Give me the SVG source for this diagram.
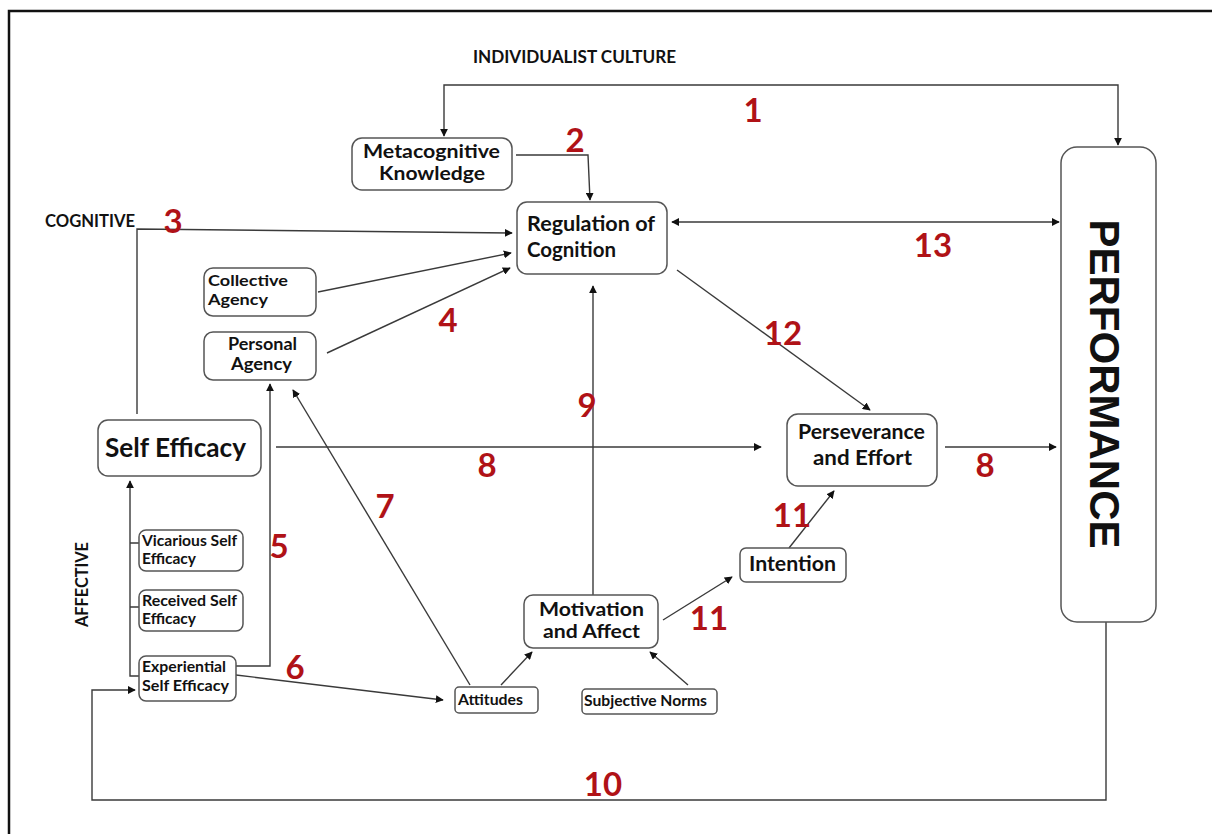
<svg xmlns="http://www.w3.org/2000/svg" width="1212" height="834" viewBox="0 0 1212 834">
<defs>
<marker id="ah" viewBox="0 0 10 10" refX="9" refY="5" markerWidth="8" markerHeight="8" markerUnits="userSpaceOnUse" orient="auto-start-reverse">
<path d="M0,0 L10,5 L0,10 z" fill="#111"/>
</marker>
<style>
.box{fill:#fff;stroke:#555;stroke-width:1.5}
.ln{fill:none;stroke:#3a3a3a;stroke-width:1.4}
.t{font-family:Lato,"Liberation Sans",sans-serif;font-weight:bold;fill:#111}
.n{font-family:Lato,"Liberation Sans",sans-serif;font-weight:bold;fill:#b01217;font-size:33px;text-anchor:middle}
</style>
</defs>
<rect x="0" y="0" width="1212" height="834" fill="#fff"/>
<path d="M9,834 V11 H1212" fill="none" stroke="#111" stroke-width="2.5"/>

<text class="t" x="473" y="63" font-size="16.5" textLength="203" lengthAdjust="spacingAndGlyphs">INDIVIDUALIST CULTURE</text>
<text class="t" x="45" y="227" font-size="16.5" textLength="90" lengthAdjust="spacingAndGlyphs">COGNITIVE</text>
<text class="t" transform="translate(88,627) rotate(-90)" font-size="16.5" textLength="85" lengthAdjust="spacingAndGlyphs">AFFECTIVE</text>

<g id="connectors">
<path class="ln" d="M444,136 V85 H1118 V145" marker-start="url(#ah)" marker-end="url(#ah)"/>
<path class="ln" d="M516,155 H588 L590,200" marker-end="url(#ah)"/>
<path class="ln" d="M137,414 V229 L512,233" marker-end="url(#ah)"/>
<path class="ln" d="M318,292 L511,253" marker-end="url(#ah)"/>
<path class="ln" d="M327,353 L510,268" marker-end="url(#ah)"/>
<path class="ln" d="M672,222 H1059" marker-start="url(#ah)" marker-end="url(#ah)"/>
<path class="ln" d="M593,595 V286" marker-end="url(#ah)"/>
<path class="ln" d="M677,270 L870,410" marker-end="url(#ah)"/>
<path class="ln" d="M276,447 H761" marker-end="url(#ah)"/>
<path class="ln" d="M945,447 H1056" marker-end="url(#ah)"/>
<path class="ln" d="M789,548 L834,491" marker-end="url(#ah)"/>
<path class="ln" d="M663,620 L732,577" marker-end="url(#ah)"/>
<path class="ln" d="M501,685 L532,652" marker-end="url(#ah)"/>
<path class="ln" d="M688,685 L650,652" marker-end="url(#ah)"/>
<path class="ln" d="M470,685 L293,390" marker-end="url(#ah)"/>
<path class="ln" d="M236,666 H270 V384" marker-end="url(#ah)"/>
<path class="ln" d="M236,675 L443,700" marker-end="url(#ah)"/>
<path class="ln" d="M139,676 H130 V481" marker-end="url(#ah)"/>
<path class="ln" d="M130,543 H139 M130,607 H139"/>
<path class="ln" d="M1106,622 V800 H92 V690 H135" marker-end="url(#ah)"/>
</g>

<g id="labels">
<text class="n" x="753" y="122">1</text>
<text class="n" x="575" y="152">2</text>
<text class="n" x="173" y="233">3</text>
<text class="n" x="448" y="332">4</text>
<text class="n" x="279" y="558">5</text>
<text class="n" x="295" y="679">6</text>
<text class="n" x="385" y="518">7</text>
<text class="n" x="487" y="477">8</text>
<text class="n" x="985" y="477">8</text>
<text class="n" x="587" y="417">9</text>
<text class="n" x="603" y="796">10</text>
<text class="n" x="792" y="527">11</text>
<text class="n" x="709" y="630">11</text>
<text class="n" x="783" y="345">12</text>
<text class="n" x="933" y="257">13</text>
</g>

<g id="metacognitive">
<rect class="box" x="352" y="138" width="160" height="52" rx="10"/>
<text class="t" x="363" y="158" font-size="18.5" textLength="137" lengthAdjust="spacingAndGlyphs">Metacognitive</text>
<text class="t" x="379" y="180" font-size="18.5" textLength="106" lengthAdjust="spacingAndGlyphs">Knowledge</text>
</g>
<g id="regulation">
<rect class="box" x="517" y="202" width="150" height="72" rx="10"/>
<text class="t" x="527" y="231" font-size="21.5" textLength="128" lengthAdjust="spacingAndGlyphs">Regulation of</text>
<text class="t" x="527" y="257" font-size="21.5" textLength="89" lengthAdjust="spacingAndGlyphs">Cognition</text>
</g>
<g id="collective">
<rect class="box" x="204" y="268" width="112" height="48" rx="9"/>
<text class="t" x="208" y="286" font-size="16" textLength="80" lengthAdjust="spacingAndGlyphs">Collective</text>
<text class="t" x="208" y="305" font-size="16" textLength="60" lengthAdjust="spacingAndGlyphs">Agency</text>
</g>
<g id="personal">
<rect class="box" x="204" y="332" width="112" height="48" rx="9"/>
<text class="t" x="228" y="350" font-size="16.5" textLength="69" lengthAdjust="spacingAndGlyphs">Personal</text>
<text class="t" x="231" y="370" font-size="16.5" textLength="61" lengthAdjust="spacingAndGlyphs">Agency</text>
</g>
<g id="selfefficacy">
<rect class="box" x="98" y="420" width="163" height="56" rx="10"/>
<text class="t" x="105" y="457" font-size="26.5" textLength="141" lengthAdjust="spacingAndGlyphs">Self Efficacy</text>
</g>
<g id="vicarious">
<rect class="box" x="139" y="530" width="104" height="41" rx="7"/>
<text class="t" x="142" y="546" font-size="15" textLength="95" lengthAdjust="spacingAndGlyphs">Vicarious Self</text>
<text class="t" x="142" y="564" font-size="15" textLength="54" lengthAdjust="spacingAndGlyphs">Efficacy</text>
</g>
<g id="received">
<rect class="box" x="139" y="590" width="104" height="41" rx="7"/>
<text class="t" x="142" y="606" font-size="15" textLength="95" lengthAdjust="spacingAndGlyphs">Received Self</text>
<text class="t" x="142" y="624" font-size="15" textLength="54" lengthAdjust="spacingAndGlyphs">Efficacy</text>
</g>
<g id="experiential">
<rect class="box" x="139" y="656" width="97" height="45" rx="7"/>
<text class="t" x="142" y="672" font-size="15" textLength="84" lengthAdjust="spacingAndGlyphs">Experiential</text>
<text class="t" x="142" y="691" font-size="15" textLength="87" lengthAdjust="spacingAndGlyphs">Self Efficacy</text>
</g>
<g id="attitudes">
<rect class="box" x="455" y="687" width="83" height="26" rx="4"/>
<text class="t" x="458" y="705" font-size="15.5" textLength="65" lengthAdjust="spacingAndGlyphs">Attitudes</text>
</g>
<g id="subjective">
<rect class="box" x="582" y="689" width="135" height="25" rx="4"/>
<text class="t" x="584" y="706" font-size="15.5" textLength="123" lengthAdjust="spacingAndGlyphs">Subjective Norms</text>
</g>
<g id="motivation">
<rect class="box" x="524" y="595" width="134" height="53" rx="9"/>
<text class="t" x="539" y="616" font-size="19" textLength="105" lengthAdjust="spacingAndGlyphs">Motivation</text>
<text class="t" x="543" y="638" font-size="19" textLength="97" lengthAdjust="spacingAndGlyphs">and Affect</text>
</g>
<g id="intention">
<rect class="box" x="740" y="548" width="106" height="34" rx="6"/>
<text class="t" x="749" y="571" font-size="21" textLength="87" lengthAdjust="spacingAndGlyphs">Intention</text>
</g>
<g id="perseverance">
<rect class="box" x="787" y="414" width="150" height="72" rx="11"/>
<text class="t" x="798" y="439" font-size="21" textLength="127" lengthAdjust="spacingAndGlyphs">Perseverance</text>
<text class="t" x="813" y="465" font-size="21" textLength="99" lengthAdjust="spacingAndGlyphs">and Effort</text>
</g>
<g id="performance">
<rect class="box" x="1061" y="147" width="95" height="475" rx="16"/>
<text transform="translate(1090,384) rotate(90)" font-family="Liberation Sans,Arial,sans-serif" font-weight="bold" font-size="42" text-anchor="middle" fill="#111">PERFORMANCE</text>
</g>
</svg>
